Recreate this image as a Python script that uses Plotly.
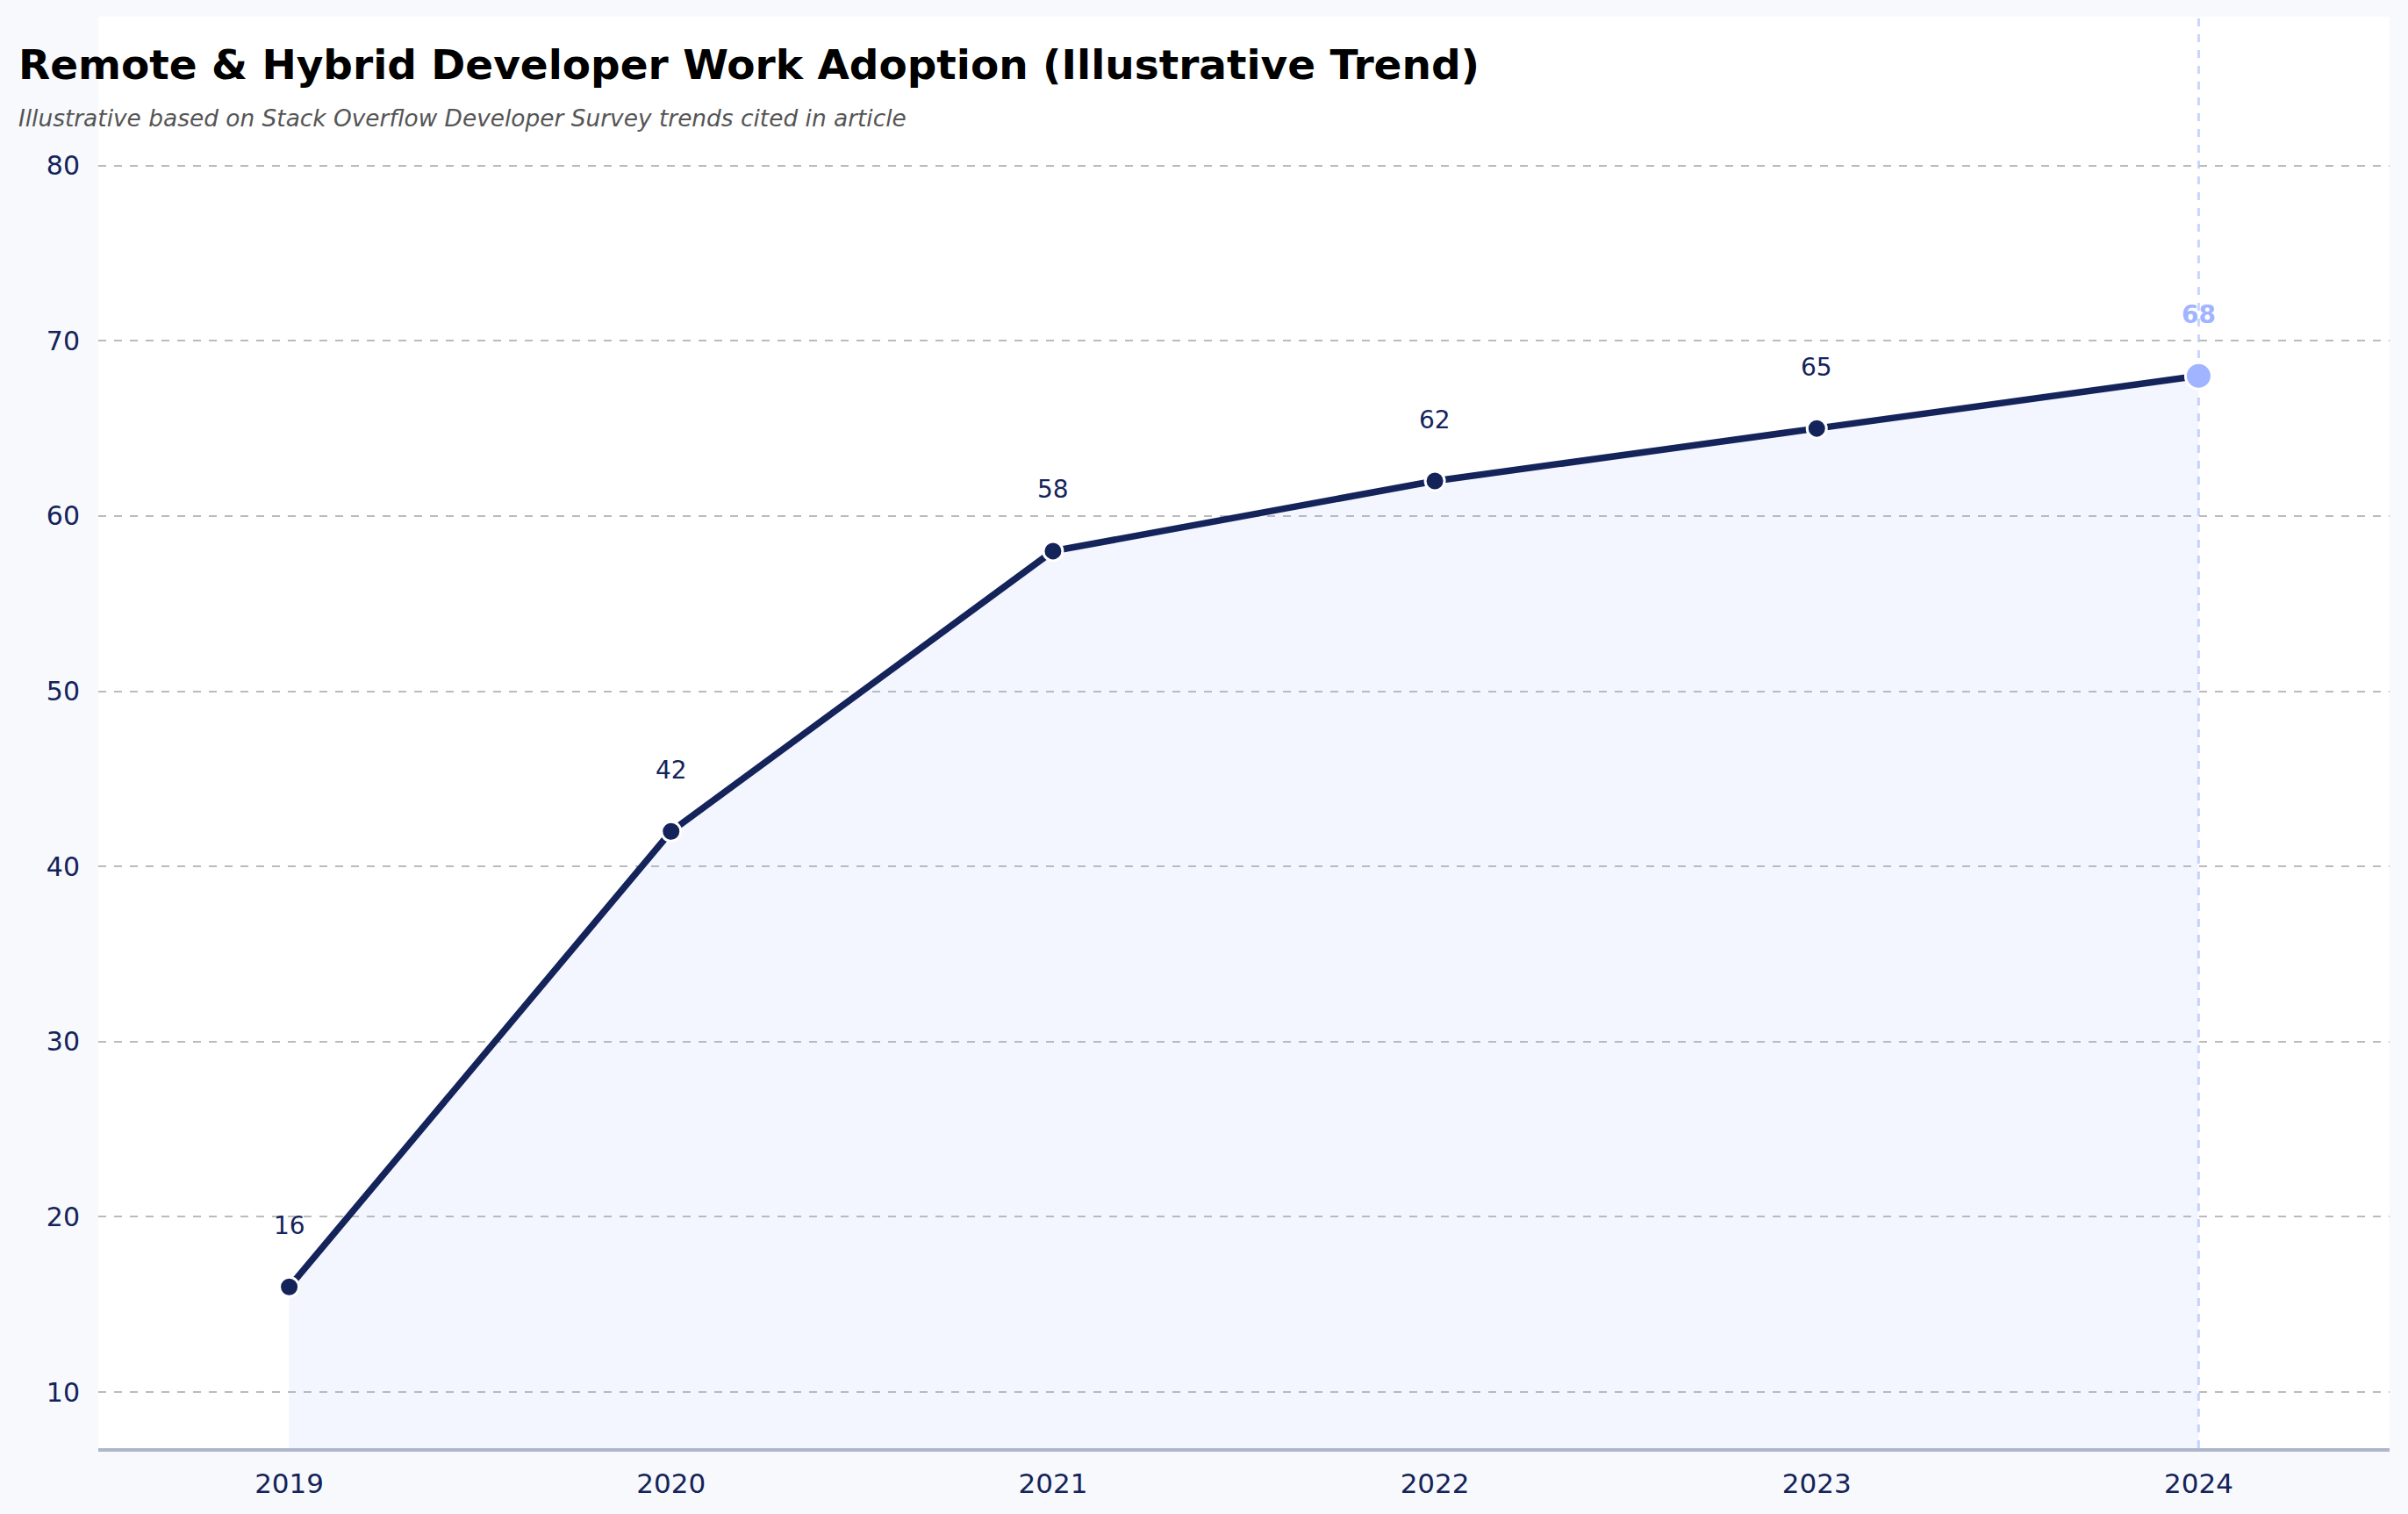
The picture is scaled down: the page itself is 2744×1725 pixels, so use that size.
import plotly.graph_objects as go

years = [2019, 2020, 2021, 2022, 2023, 2024]
adoption = [16, 42, 58, 62, 65, 68]
y_ticks = [10, 20, 30, 40, 50, 60, 70, 80]

TITLE = "Remote & Hybrid Developer Work Adoption (Illustrative Trend)"
SUBTITLE = "Illustrative based on Stack Overflow Developer Survey trends cited in article"

NAVY = "#14235A"
HILITE = "#A0B4FF"
FONT = "DejaVu Sans"

W, H = 2744, 1725
ML, MR, MT, MB = 112, 21, 19, 75
PW, PH = W - ML - MR, H - MT - MB

fig = go.Figure()

# Area fill
fig.add_trace(go.Scatter(
    x=years, y=adoption, mode="lines", fill="tozeroy",
    line=dict(width=0, color="rgba(0,0,0,0)"),
    fillcolor="rgba(160,180,255,0.13)", hoverinfo="skip", showlegend=False))

# Main line with markers
fig.add_trace(go.Scatter(
    x=years, y=adoption, mode="lines+markers",
    line=dict(color=NAVY, width=7.5),
    marker=dict(size=22, color=NAVY, line=dict(color="white", width=3)),
    showlegend=False))

# Highlight latest point
fig.add_trace(go.Scatter(
    x=years[-1:], y=adoption[-1:], mode="markers",
    marker=dict(size=30, color=HILITE, line=dict(color="white", width=3)),
    showlegend=False))

# Value labels
for i, (yr, v) in enumerate(zip(years, adoption)):
    last = i == len(years) - 1
    fig.add_annotation(
        x=yr, y=v, text=f"<b>{v}</b>" if last else str(v), showarrow=False,
        yshift=70, yanchor="middle", xanchor="center",
        font=dict(family=FONT, size=28, color=HILITE if last else NAVY))

# Vertical highlight line
fig.add_shape(type="line", x0=years[-1], x1=years[-1], y0=0, y1=1,
              xref="x", yref="paper", layer="below",
              line=dict(color="#C9D5FF", width=3, dash="dash"))

# Title and subtitle
fig.add_annotation(
    x=(19 - ML) / PW, y=(H - MB - 73.5) / PH, xref="paper", yref="paper",
    xanchor="left", yanchor="middle", showarrow=False,
    text=f"<b>{TITLE}</b>", font=dict(family=FONT, size=47, color="black"))
fig.add_annotation(
    x=(19 - ML) / PW, y=(H - MB - 135) / PH, xref="paper", yref="paper",
    xanchor="left", yanchor="middle", showarrow=False,
    text=f"<i>{SUBTITLE}</i>", font=dict(family=FONT, size=26.4, color="#555555"))

fig.update_layout(
    width=W, height=H,
    margin=dict(l=ML, r=MR, t=MT, b=MB, pad=0),
    paper_bgcolor="#F7F9FC", plot_bgcolor="white",
    font=dict(family=FONT, color=NAVY),
    showlegend=False,
)
fig.update_xaxes(
    range=[2018.5, 2024.5], tickvals=years, ticktext=[str(y) for y in years],
    showgrid=False, zeroline=False, showline=True, linecolor="#AEB6CC", linewidth=3.5,
    ticks="", ticklabelstandoff=10, tickfont=dict(family=FONT, size=31, color=NAVY))
fig.update_yaxes(
    range=[6.8, 88.5], tickvals=y_ticks, showgrid=True, gridcolor="#BBBBBB",
    gridwidth=1.8, griddash="dash", zeroline=False, showline=False,
    ticks="", ticklabelstandoff=20, tickfont=dict(family=FONT, size=30, color=NAVY))

fig.write_html("out.html")
